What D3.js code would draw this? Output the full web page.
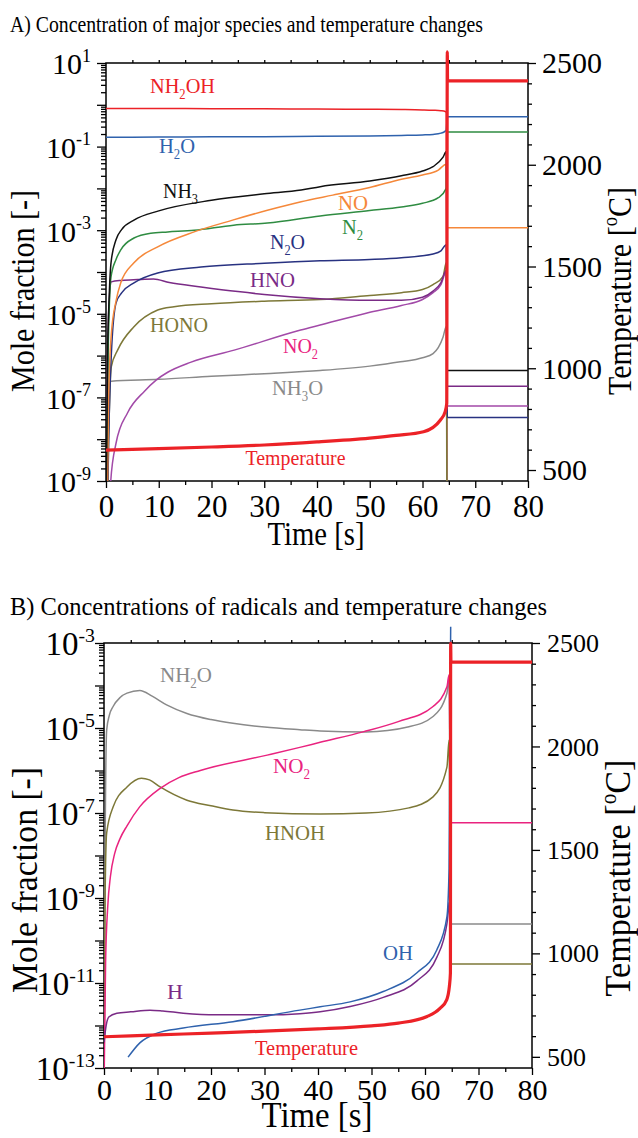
<!DOCTYPE html>
<html>
<head>
<meta charset="utf-8">
<script src="https://cdn.jsdelivr.net/npm/d3@7"></script>
<style>
body { margin: 0; background: #fff; }
svg text { font-family: "Liberation Serif", "Times New Roman", serif; }
</style>
</head>
<body>
<svg id="chart" width="638" height="1138"></svg>
<script>
// time ticks [s] and temperature ticks [C]
var timeTicks = [0, 10, 20, 30, 40, 50, 60, 70, 80];
var tempTicks = [500, 1000, 1500, 2000, 2500];
var tempDomain = [446, 2500];

// ---- panel A: [time s, mole fraction] ----
var nh2ohA = [[0,0.82],[10,0.815],[20,0.81],[30,0.80],[40,0.79],[50,0.78],[56,0.77],[60,0.755],[62,0.74],[63.5,0.72],[64.3,0.69],[64.5,0.66],[64.7,1e-12],[80,1e-12]];
var h2oA = [[0,0.167],[10,0.169],[20,0.171],[30,0.173],[40,0.176],[50,0.18],[56,0.185],[60,0.19],[62,0.196],[63.5,0.21],[64.3,0.235],[64.5,0.25],[64.7,0.52],[80,0.52]];
var nh3A = [[0,1e-10],[0.3,1e-6],[0.6,2.5e-5],[0.95,1.66e-4],[1.9,5.9e-4],[3,1.05e-3],[5.3,1.74e-3],[10,2.9e-3],[20,5.2e-3],[30,7.4e-3],[37,9.1e-3],[40.6,1.1e-2],[50,1.5e-2],[56,2.0e-2],[60,2.6e-2],[62,3.3e-2],[63.9,5.6e-2],[64.5,7.6e-2],[64.7,4.4e-7],[80,4.4e-7]];
var noA = [[0,1e-12],[0.5,1e-7],[1,3.2e-6],[1.9,2.0e-5],[2.8,5.5e-5],[5.3,1.66e-4],[9.8,4.0e-4],[16.7,9.1e-4],[24,1.74e-3],[30.6,3.0e-3],[37,4.8e-3],[43,6.9e-3],[50,1.05e-2],[56,1.66e-2],[60,2.1e-2],[63,2.75e-2],[64.5,3.8e-2],[64.7,1.15e-3],[80,1.15e-3]];
var n2A = [[0,1e-12],[0.4,1e-6],[0.95,7.6e-5],[1.9,2.0e-4],[2.8,3.4e-4],[5.3,6.5e-4],[8.5,8.5e-4],[11.7,9.1e-4],[16.7,1.0e-3],[24.2,1.32e-3],[30.6,1.48e-3],[40.6,2.2e-3],[50,2.95e-3],[56,3.6e-3],[60,4.4e-3],[63,6.0e-3],[64.5,1.0e-2],[64.7,0.223],[80,0.223]];
var n2oA = [[0,1e-12],[0.5,1e-8],[1,1e-6],[1.9,1.8e-5],[3,3.2e-5],[5.3,5.5e-5],[9.8,9.5e-5],[18,1.32e-4],[30,1.62e-4],[40.6,1.86e-4],[50,2.0e-4],[56,2.2e-4],[62,2.7e-4],[63.5,3.2e-4],[64.5,4.5e-4],[64.7,3.3e-8],[80,3.3e-8]];
var hnoA = [[0,1e-12],[0.3,1e-6],[0.7,3.2e-5],[1,5.8e-5],[3,6.3e-5],[6,6.6e-5],[9,6.8e-5],[12,5.6e-5],[18,4.4e-5],[25,3.4e-5],[30,2.9e-5],[40.6,2.3e-5],[50,2.1e-5],[56,2.1e-5],[60,2.5e-5],[62,3.5e-5],[63.5,5.6e-5],[64.5,1.1e-4],[64.7,1.86e-7],[80,1.86e-7]];
var honoA = [[0,1e-12],[0.5,1e-8],[1,5.4e-7],[2.2,1.35e-6],[5.3,4.9e-6],[9.8,1.23e-5],[12.9,1.48e-5],[20,1.74e-5],[30,2.0e-5],[40.6,2.2e-5],[50,2.75e-5],[56,3.2e-5],[60,3.8e-5],[62,5.0e-5],[63.9,7.9e-5],[64.5,1.66e-4],[64.7,1e-12],[80,1e-12]];
var no2A = [[0,1e-12],[0.5,3.2e-11],[0.9,1e-9],[1.9,8e-9],[4.1,4.3e-8],[7.3,1.41e-7],[9.5,2.6e-7],[11.7,4.0e-7],[16,6.9e-7],[24.3,1.35e-6],[36.9,4.1e-6],[40.6,5.4e-6],[49.5,1.05e-5],[56,1.58e-5],[60,2.2e-5],[62,3.2e-5],[63.5,5.0e-5],[64.5,1e-4],[64.7,6.2e-8],[80,6.2e-8]];
var nh3oA = [[0,1e-12],[0.3,1e-8],[0.6,2.0e-7],[1,2.45e-7],[10,2.7e-7],[20,3.2e-7],[30,3.7e-7],[40.6,4.4e-7],[50,5.6e-7],[55.8,7.1e-7],[60,8.9e-7],[62,1.12e-6],[63.9,2.8e-6],[64.5,5.0e-6],[64.7,1e-12],[80,1e-12]];
// temperature [C]
var tempA = [[0,598],[10,605],[20,613],[30,623],[40,638],[50,657],[55,670],[60.2,688],[63.4,746],[64.3,787],[64.6,828],[64.7,2555],[64.75,2412],[80,2412]];

// ---- panel B: radicals ----
var nh2oB = [[0,3.2e-14],[0.2,1e-8],[0.5,8.9e-6],[1,2.0e-5],[1.7,3.2e-5],[3,5.2e-5],[4.3,6.6e-5],[6.7,7.6e-5],[9,5.6e-5],[11.7,3.5e-5],[15.5,2.2e-5],[20,1.58e-5],[24.1,1.29e-5],[30,1.05e-5],[36.6,9.1e-6],[40.4,8.5e-6],[49,8.1e-6],[57,1.07e-5],[61.5,1.86e-5],[64.1,6.6e-5],[64.5,1.58e-4],[64.8,2.45e-10],[80,2.45e-10]];
var no2B = [[0,3.2e-14],[0.3,3.2e-11],[0.7,6.3e-10],[1.2,3.2e-9],[2,1.12e-8],[3,2.5e-8],[4.3,5.0e-8],[6.7,1.41e-7],[10.5,3.8e-7],[14,6.8e-7],[18,1.0e-6],[30.5,2.3e-6],[36.6,3.5e-6],[40.4,4.6e-6],[48.4,8.1e-6],[55,1.41e-5],[61.5,3.2e-5],[64.1,9.3e-5],[64.5,1.78e-4],[64.8,5.9e-8],[80,5.9e-8]];
var hnohB = [[0,3.2e-14],[0.2,1e-9],[0.5,3.4e-8],[1.7,1.38e-7],[4.3,4.1e-7],[7,6.6e-7],[8.5,6.0e-7],[10.5,4.1e-7],[15.5,2.0e-7],[20,1.48e-7],[24.1,1.17e-7],[30,1.02e-7],[40.4,9.5e-8],[49,1.0e-7],[57,1.32e-7],[61.5,2.4e-7],[64.1,1.2e-6],[64.5,5.2e-6],[64.8,2.8e-11],[80,2.8e-11]];
var hB = [[0,4.0e-13],[0.4,1e-12],[0.9,1.58e-12],[2.4,1.95e-12],[5,2.1e-12],[8.6,2.3e-12],[11,2.2e-12],[14.8,1.95e-12],[21,1.78e-12],[30.5,1.78e-12],[36.6,1.9e-12],[40.4,2.1e-12],[46,2.8e-12],[52.2,4.6e-12],[58.5,1.12e-11],[62.2,4.0e-11],[64.1,2.5e-10],[64.5,7.9e-10]];
var ohB = [[4.5,1.8e-13],[6.7,3.9e-13],[9.9,6.6e-13],[14.8,8.7e-13],[24.1,1.23e-12],[36.6,2.3e-12],[40.4,2.75e-12],[46,3.6e-12],[52.2,6.3e-12],[58.5,1.74e-11],[62.2,6.0e-11],[64.1,3.6e-10],[64.5,5.0e-9],[64.8,2.4e-3]];
var tempB = [[0,597],[10,606],[20,615],[30,624],[40,635],[50,650],[55,663],[60.4,695],[62.8,734],[64.05,775],[64.55,839],[64.75,905],[64.8,2500],[64.85,2408],[80,2408]];

var C = {
  red: '#ec2227', blue: '#2f62ad', green: '#2f8c42', orange: '#f5883a',
  black: '#111111', navy: '#283281', purple: '#7a2b86', olive: '#7d7838',
  violet: '#a24aa8', pink: '#e9237f', gray: '#8a8a8a'
};

var svg = d3.select('#chart');

// text with _x subscripts and ^x superscripts
function label(parent, s, x, y, size, color, w, anchor) {
  var t = parent.append('text').attr('x', x).attr('y', y)
    .attr('text-anchor', anchor || 'middle').attr('font-size', size).attr('fill', color);
  var shift = 0;
  s.split(/([_^].)/).forEach(function(p) {
    if (!p) return;
    if (p[0] === '_' || p[0] === '^') {
      var off = p[0] === '_' ? size * 0.25 : -size * 0.4;
      t.append('tspan').attr('font-size', size * 0.62).attr('dy', off - shift).text(p[1]);
      shift = off;
    } else {
      t.append('tspan').attr('dy', -shift).text(p);
      shift = 0;
    }
  });
  if (w) t.attr('textLength', w).attr('lengthAdjust', 'spacingAndGlyphs');
  return t;
}

function clean(g) {
  g.select('.domain').remove();
  g.attr('font-family', null).attr('font-size', null);
  g.selectAll('line').attr('stroke', '#000').attr('stroke-width', 1.3);
}
function noText(g) { g.selectAll('text').remove(); }

function drawPanel(p) {
  var x = d3.scaleLinear().domain([0, 80]).range([p.left, p.right]);
  var y = d3.scaleLog().domain(p.yDom).range([p.bottom, p.top]);
  var yT = d3.scaleLinear().domain(tempDomain).range([p.bottom, p.top]);
  var g = svg.append('g');

  var lo = Math.round(Math.log10(p.yDom[0])), hi = Math.round(Math.log10(p.yDom[1]));
  var decades = d3.range(lo, hi + 1).map(function(e) { return Math.pow(10, e); });
  var minors = [];
  d3.range(lo, hi).forEach(function(e) {
    for (var m = 2; m < 10; m++) minors.push(m * Math.pow(10, e));
  });

  // left log axis
  g.append('g').attr('transform', 'translate(' + p.left + ',0)')
    .call(d3.axisLeft(y).tickValues(minors).tickSize(5).tickSizeOuter(0).tickFormat(''))
    .call(clean).call(noText);
  var yl = g.append('g').attr('transform', 'translate(' + p.left + ',0)')
    .call(d3.axisLeft(y).tickValues(decades).tickSize(9).tickSizeOuter(0).tickFormat(''))
    .call(clean).call(noText);
  yl.selectAll('.tick').each(function(d) {
    var e = Math.round(Math.log10(d));
    if ((e - p.labelExp) % 2 !== 0) return;
    var t = d3.select(this).append('text')
      .attr('x', p.yLabelX - p.left).attr('y', p.yTickFont * 0.36)
      .attr('text-anchor', 'end').attr('font-size', p.yTickFont).attr('fill', '#000');
    t.append('tspan').text('10');
    t.append('tspan').attr('font-size', p.yTickFont * 0.6)
      .attr('dy', -p.yTickFont * 0.42).text(String(e));
  });

  // bottom axis
  g.append('g').attr('transform', 'translate(0,' + p.bottom + ')')
    .call(d3.axisBottom(x).tickValues(d3.range(5, 80, 10)).tickSize(4).tickSizeOuter(0).tickFormat(''))
    .call(clean).call(noText);
  var xb = g.append('g').attr('transform', 'translate(0,' + p.bottom + ')')
    .call(d3.axisBottom(x).tickValues(timeTicks).tickSize(7).tickSizeOuter(0).tickFormat(d3.format('d')))
    .call(clean);
  xb.selectAll('text').attr('y', p.xLabelY - p.bottom).attr('dy', 0)
    .attr('font-size', p.xTickFont).attr('fill', '#000');

  // top axis, small ticks
  g.append('g').attr('transform', 'translate(0,' + p.top + ')')
    .call(d3.axisTop(x).tickValues(d3.range(5, 80, 5)).tickSize(3).tickSizeOuter(0).tickFormat(''))
    .call(clean).call(noText);

  // right temperature axis
  var tMinor = d3.range(500, 2500, 100).filter(function(v) { return v % 500 !== 0; });
  g.append('g').attr('transform', 'translate(' + p.right + ',0)')
    .call(d3.axisRight(yT).tickValues(tMinor).tickSize(4).tickSizeOuter(0).tickFormat(''))
    .call(clean).call(noText);
  var yr = g.append('g').attr('transform', 'translate(' + p.right + ',0)')
    .call(d3.axisRight(yT).tickValues(tempTicks).tickSize(8).tickSizeOuter(0).tickFormat(d3.format('d')))
    .call(clean);
  yr.selectAll('text').attr('x', p.tLabelDx).attr('dy', 0).attr('y', p.tTickFont * 0.33)
    .attr('font-size', p.tTickFont).attr('text-anchor', 'start').attr('fill', '#000');

  // frame
  g.append('rect').attr('x', p.left).attr('y', p.top)
    .attr('width', p.right - p.left).attr('height', p.bottom - p.top)
    .attr('fill', 'none').attr('stroke', '#000').attr('stroke-width', 1.5);

  // curves
  var cid = 'clip' + p.key;
  svg.append('clipPath').attr('id', cid).append('rect')
    .attr('x', p.left).attr('y', p.top - 30)
    .attr('width', p.right - p.left).attr('height', p.bottom - p.top + 30);
  var gc = g.append('g').attr('clip-path', 'url(#' + cid + ')');
  var line = d3.line().curve(d3.curveMonotoneX)
    .x(function(d) { return x(d[0]); })
    .y(function(d) { return y(d[1]); });
  p.series.forEach(function(s) {
    gc.append('path').datum(s.data).attr('d', line)
      .attr('fill', 'none').attr('stroke', s.color).attr('stroke-width', 1.5);
  });
  var tline = d3.line().curve(d3.curveMonotoneX)
    .x(function(d) { return x(d[0]); })
    .y(function(d) { return yT(d[1]); });
  gc.append('path').datum(p.temp).attr('d', tline)
    .attr('fill', 'none').attr('stroke', C.red).attr('stroke-width', 3.2);

  // series labels
  p.labels.forEach(function(l) {
    label(g, l.s, l.x, l.y, 22, l.color, l.w);
  });

  // titles
  label(g, p.title, 10, p.titleY, p.titleFont, '#000', p.titleW, 'start');
  label(g, 'Mole fraction [-]', p.yTitleX, p.midY, p.axisFont, '#000', p.yTitleW)
    .attr('transform', 'rotate(-90,' + p.yTitleX + ',' + p.midY + ')');
  label(g, 'Temperature [^oC]', p.tTitleX, p.tMidY, p.axisFont, '#000', p.tTitleW)
    .attr('transform', 'rotate(-90,' + p.tTitleX + ',' + p.tMidY + ')');
  label(g, 'Time [s]', p.xTitleCx, p.xTitleY, p.axisFont, '#000', p.xTitleW);
}

drawPanel({
  key: 'A', left: 106, right: 528, top: 63, bottom: 481, yDom: [1e-9, 10], labelExp: 1,
  yLabelX: 91, yTickFont: 30, xLabelY: 517, xTickFont: 31, tLabelDx: 14, tTickFont: 30,
  title: 'A) Concentration of major species and temperature changes', titleY: 32, titleFont: 23, titleW: 473,
  axisFont: 34, yTitleX: 34, midY: 291, yTitleW: 202, tTitleX: 631, tMidY: 291, tTitleW: 208,
  xTitleCx: 316, xTitleY: 545, xTitleW: 97,
  series: [
    {data: nh2ohA, color: C.red}, {data: h2oA, color: C.blue}, {data: nh3oA, color: C.gray},
    {data: no2A, color: C.violet}, {data: honoA, color: C.olive}, {data: hnoA, color: C.purple},
    {data: n2oA, color: C.navy}, {data: n2A, color: C.green}, {data: noA, color: C.orange},
    {data: nh3A, color: C.black}
  ],
  temp: tempA,
  labels: [
    {s: 'NH_2OH', x: 182.5, y: 93, w: 65, color: C.red},
    {s: 'H_2O', x: 177, y: 153, w: 36, color: C.blue},
    {s: 'NH_3', x: 180.5, y: 198, w: 35, color: C.black},
    {s: 'NO', x: 353, y: 210, w: 30, color: C.orange},
    {s: 'N_2', x: 352.5, y: 234, w: 21, color: C.green},
    {s: 'N_2O', x: 287.5, y: 249, w: 35, color: C.navy},
    {s: 'HNO', x: 272.5, y: 287, w: 45, color: C.purple},
    {s: 'HONO', x: 179, y: 332, w: 58, color: C.olive},
    {s: 'NO_2', x: 300.5, y: 353, w: 35, color: C.pink},
    {s: 'NH_3O', x: 297.5, y: 395, w: 51, color: C.gray},
    {s: 'Temperature', x: 295.5, y: 465, w: 100, color: C.red}
  ]
});

drawPanel({
  key: 'B', left: 104, right: 532, top: 643, bottom: 1068, yDom: [1e-13, 1e-3], labelExp: -3,
  yLabelX: 95, yTickFont: 33, xLabelY: 1100, xTickFont: 30, tLabelDx: 15, tTickFont: 26,
  title: 'B) Concentrations of radicals and temperature changes', titleY: 615, titleFont: 25, titleW: 537,
  axisFont: 36, yTitleX: 37, midY: 880, yTitleW: 226, tTitleX: 630, tMidY: 878, tTitleW: 237,
  xTitleCx: 317, xTitleY: 1127, xTitleW: 111,
  series: [
    {data: nh2oB, color: C.gray}, {data: hnohB, color: C.olive}, {data: no2B, color: C.pink},
    {data: hB, color: C.purple}, {data: ohB, color: C.blue}
  ],
  temp: tempB,
  labels: [
    {s: 'NH_2O', x: 186, y: 682, w: 52, color: C.gray},
    {s: 'NO_2', x: 291.5, y: 773, w: 37, color: C.pink},
    {s: 'HNOH', x: 295, y: 840, w: 60, color: C.olive},
    {s: 'H', x: 175, y: 999, w: 16, color: C.purple},
    {s: 'OH', x: 398, y: 960, w: 30, color: C.blue},
    {s: 'Temperature', x: 306.5, y: 1055, w: 103, color: C.red}
  ]
});
</script>
</body>
</html>
